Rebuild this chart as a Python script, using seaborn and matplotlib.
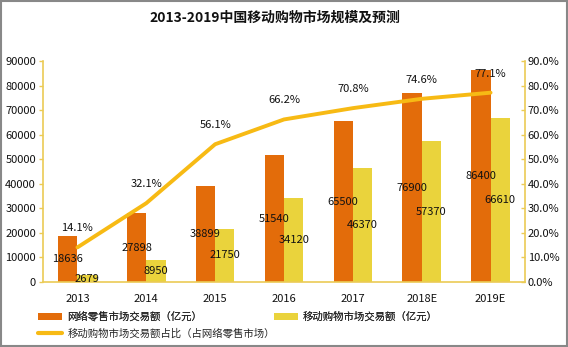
import numpy as np
import pandas as pd
import seaborn as sns
import matplotlib.pyplot as plt
from matplotlib.patches import Patch, Rectangle
from matplotlib.lines import Line2D

years = ["2013", "2014", "2015", "2016", "2017", "2018E", "2019E"]
online_retail = [18636, 27898, 38899, 51540, 65500, 76900, 86400]
mobile_shop = [2679, 8950, 21750, 34120, 46370, 57370, 66610]
mobile_share = [14.1, 32.1, 56.1, 66.2, 70.8, 74.6, 77.1]
series_names = ["网络零售市场交易额（亿元）", "移动购物市场交易额（亿元）",
                "移动购物市场交易额占比（占网络零售市场）"]
title = "2013-2019中国移动购物市场规模及预测"

ORANGE = "#E36C0A"
YELLOW = "#EAD33C"
LINE = "#F7BA14"
SPINE = "#EBCB55"

sns.set_theme(style="white")
plt.rcParams["font.family"] = ["Noto Sans CJK SC", "DejaVu Sans"]
plt.rcParams["axes.unicode_minus"] = False

df = pd.DataFrame({
    "year": years * 2,
    "value": online_retail + mobile_shop,
    "series": [series_names[0]] * len(years) + [series_names[1]] * len(years),
})

fig = plt.figure(figsize=(5.68, 3.47), dpi=100)
ax = fig.add_axes([43 / 568, 1 - 282 / 347, (525 - 43) / 568, (282 - 61) / 347])

sns.barplot(data=df, x="year", y="value", hue="series", order=years,
            hue_order=series_names[:2], palette=[ORANGE, YELLOW],
            width=0.56, gap=0, ax=ax, legend=False, saturation=1,
            linewidth=0, edgecolor="none")

ax.set_ylim(0, 90000)
ax.set_yticks(np.arange(0, 90001, 10000))
ax.set_xlim(-0.5, len(years) - 0.5)
ax.set_xlabel("")
ax.set_ylabel("")
fs = 8
ax.tick_params(axis="y", direction="out", length=3, width=1, color=SPINE,
               labelsize=fs, labelcolor="#111111", pad=2)
ax.tick_params(axis="x", length=0, labelsize=fs, labelcolor="#111111", pad=9)
for s in ["top", "right"]:
    ax.spines[s].set_visible(False)
for s in ["left", "bottom"]:
    ax.spines[s].set_color(SPINE)
    ax.spines[s].set_linewidth(1.2)

# bar value labels centred in bars
for i, (a, b) in enumerate(zip(online_retail, mobile_shop)):
    ax.text(i - 0.14, a / 2, f"{a}", ha="center", va="center", fontsize=fs, color="#111111")
    ax.text(i + 0.14, b / 2, f"{b}", ha="center", va="center", fontsize=fs, color="#111111")

ax2 = ax.twinx()
sns.lineplot(x=np.arange(len(years)), y=mobile_share, ax=ax2, color=LINE,
             linewidth=2.8, legend=False)
ax2.set_ylim(0, 90)
ax2.set_yticks(np.arange(0, 91, 10))
ax2.set_yticklabels([f"{v:.1f}%" for v in np.arange(0, 91, 10)])
ax2.tick_params(axis="y", direction="in", length=3, width=1, color=SPINE,
                labelsize=fs, labelcolor="#111111", pad=2)
for s in ["top", "left", "bottom"]:
    ax2.spines[s].set_visible(False)
ax2.spines["right"].set_color(SPINE)
ax2.spines["right"].set_linewidth(1.2)

for i, p in enumerate(mobile_share):
    ax2.annotate(f"{p}%", (i, p), xytext=(0, 19), textcoords="offset pixels",
                 ha="center", va="center", fontsize=fs, color="#111111")

fig.text(275 / 568, 1 - 18 / 347, title, ha="center", va="center",
         fontsize=10, fontweight="bold", color="#111111")

lfs = 7.5
leg1 = fig.legend([Patch(facecolor=ORANGE, edgecolor="none"),
                   Patch(facecolor=YELLOW, edgecolor="none")],
                  series_names[:2], ncol=2, loc="center left",
                  bbox_to_anchor=(38 / 568, 1 - 317 / 347), frameon=False,
                  fontsize=lfs, handlelength=2.3, handleheight=0.6, handletextpad=0.5,
                  columnspacing=6.9, borderpad=0, borderaxespad=0)
fig.add_artist(leg1)
fig.legend([Line2D([0], [0], color=LINE, linewidth=3)], [series_names[2]],
           loc="center left", bbox_to_anchor=(38 / 568, 1 - 333 / 347),
           frameon=False, fontsize=lfs, handlelength=2.3, handletextpad=0.5,
           borderpad=0, borderaxespad=0)

fig.patches.append(Rectangle((0.001, 0.002), 0.997, 0.995, transform=fig.transFigure,
                             fill=False, edgecolor="#888888", linewidth=1.5))

fig.savefig("out.png", dpi=100)
